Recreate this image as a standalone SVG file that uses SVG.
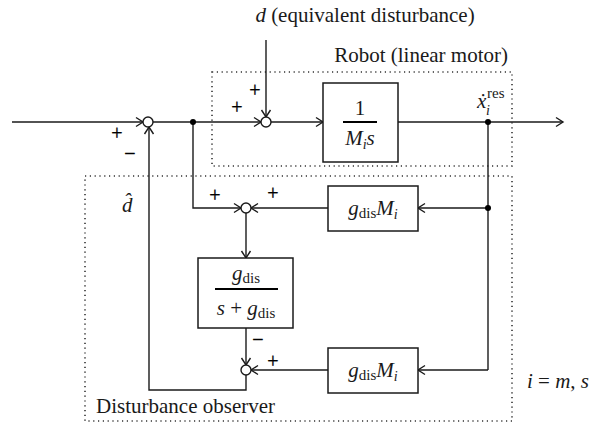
<svg xmlns="http://www.w3.org/2000/svg" width="592" height="424" viewBox="0 0 592 424">
<style>
  .ln{fill:none;stroke:#1a1a1a;stroke-width:1.4}
  .box{fill:#fff;stroke:#1a1a1a;stroke-width:1.5}
  .dot{fill:none;stroke:#333;stroke-width:1.6;stroke-dasharray:1.2 3.6}
  .sum{fill:#fff;stroke:#1a1a1a;stroke-width:1.4}
  .jn{fill:#000}
  text{font-family:"Liberation Serif","Times New Roman",serif;fill:#1a1a1a}
  .t{font-size:21px}
  .it{font-style:italic}
  .sg{font-size:20px;fill:#000;stroke:#000;stroke-width:0.35}
  .bar{stroke:#000;stroke-width:1.8}
</style>
<defs>
  <marker id="ah" markerWidth="12" markerHeight="12" refX="9" refY="6" orient="auto" markerUnits="userSpaceOnUse">
    <path d="M2,1.5 L9,6 L2,10.5" fill="none" stroke="#1a1a1a" stroke-width="1.4"/>
  </marker>
</defs>

<rect class="dot" x="212" y="72" width="300" height="94"/>
<rect class="dot" x="85" y="176" width="427" height="245"/>

<g id="connectors">
  <line class="ln" x1="12" y1="122" x2="143" y2="122" marker-end="url(#ah)"/>
  <line class="ln" x1="153" y1="122" x2="261" y2="122" marker-end="url(#ah)"/>
  <line class="ln" x1="266" y1="40" x2="266" y2="117" marker-end="url(#ah)"/>
  <line class="ln" x1="271" y1="122" x2="323" y2="122" marker-end="url(#ah)"/>
  <line class="ln" x1="398" y1="122" x2="563" y2="122" marker-end="url(#ah)"/>
  <line class="ln" x1="488" y1="122" x2="488" y2="370"/>
  <line class="ln" x1="488" y1="208" x2="418" y2="208" marker-end="url(#ah)"/>
  <line class="ln" x1="488" y1="370" x2="418" y2="370" marker-end="url(#ah)"/>
  <polyline class="ln" points="193,122 193,208 241,208" marker-end="url(#ah)"/>
  <line class="ln" x1="328" y1="208" x2="251" y2="208" marker-end="url(#ah)"/>
  <line class="ln" x1="246" y1="213" x2="246" y2="258" marker-end="url(#ah)"/>
  <line class="ln" x1="246" y1="328" x2="246" y2="365" marker-end="url(#ah)"/>
  <line class="ln" x1="328" y1="370" x2="251" y2="370" marker-end="url(#ah)"/>
  <polyline class="ln" points="246,375 246,390 149,390 149,127" marker-end="url(#ah)"/>
  <circle class="jn" cx="193" cy="122" r="3"/>
  <circle class="jn" cx="488" cy="122" r="3"/>
  <circle class="jn" cx="488" cy="208" r="3"/>
</g>

<g id="sum1"><circle class="sum" cx="148" cy="122" r="5"/>
  <text class="sg" x="117" y="140" text-anchor="middle">+</text>
  <text class="sg" x="130" y="160" text-anchor="middle">−</text></g>
<g id="sum2"><circle class="sum" cx="266" cy="122" r="5"/>
  <text class="sg" x="255" y="97" text-anchor="middle">+</text>
  <text class="sg" x="237" y="114" text-anchor="middle">+</text></g>
<g id="sum3"><circle class="sum" cx="246" cy="208" r="5"/>
  <text class="sg" x="215" y="202" text-anchor="middle">+</text>
  <text class="sg" x="273" y="200" text-anchor="middle">+</text></g>
<g id="sum4"><circle class="sum" cx="246" cy="370" r="5"/>
  <text class="sg" x="258" y="346" text-anchor="middle">−</text>
  <text class="sg" x="273" y="368" text-anchor="middle">+</text></g>

<g id="plant">
  <rect class="box" x="323" y="83" width="75" height="79"/>
  <line class="bar" x1="343" y1="122" x2="377" y2="122"/>
  <text class="t" x="360" y="115" text-anchor="middle">1</text>
  <text class="t it" x="360" y="145" text-anchor="middle">M<tspan font-size="14" dy="4">i</tspan><tspan dy="-4">s</tspan></text>
</g>

<g id="qfilter">
  <rect class="box" x="198" y="258" width="95" height="70"/>
  <line class="bar" x1="215" y1="289" x2="278" y2="289"/>
  <text class="t" x="246" y="280" text-anchor="middle"><tspan class="it">g</tspan><tspan font-size="15" dy="3">dis</tspan></text>
  <text class="t" x="246" y="315" text-anchor="middle"><tspan class="it">s</tspan> + <tspan class="it">g</tspan><tspan font-size="15" dy="3">dis</tspan></text>
</g>

<g id="gain1">
  <rect class="box" x="328" y="186" width="90" height="45"/>
  <text class="t" x="373" y="215" text-anchor="middle"><tspan class="it">g</tspan><tspan font-size="15" dy="3">dis</tspan><tspan class="it" dy="-3">M</tspan><tspan class="it" font-size="14" dy="4">i</tspan></text>
</g>
<g id="gain2">
  <rect class="box" x="328" y="348" width="90" height="45"/>
  <text class="t" x="373" y="377" text-anchor="middle"><tspan class="it">g</tspan><tspan font-size="15" dy="3">dis</tspan><tspan class="it" dy="-3">M</tspan><tspan class="it" font-size="14" dy="4">i</tspan></text>
</g>

<g id="labels">
  <text class="t" x="365" y="22" text-anchor="middle"><tspan class="it">d</tspan> (equivalent disturbance)</text>
  <text class="t" x="508" y="62" text-anchor="end">Robot (linear motor)</text>
  <text class="t it" x="477" y="108">ẋ</text>
  <text class="it" font-size="14" x="486" y="115">i</text>
  <text font-size="15" x="487" y="98">res</text>
  <text class="t it" x="122" y="212">d̂</text>
  <text class="t" x="96" y="413">Disturbance observer</text>
  <text class="t" x="527" y="388"><tspan class="it">i</tspan> = <tspan class="it">m</tspan>, <tspan class="it">s</tspan></text>
</g>
</svg>
